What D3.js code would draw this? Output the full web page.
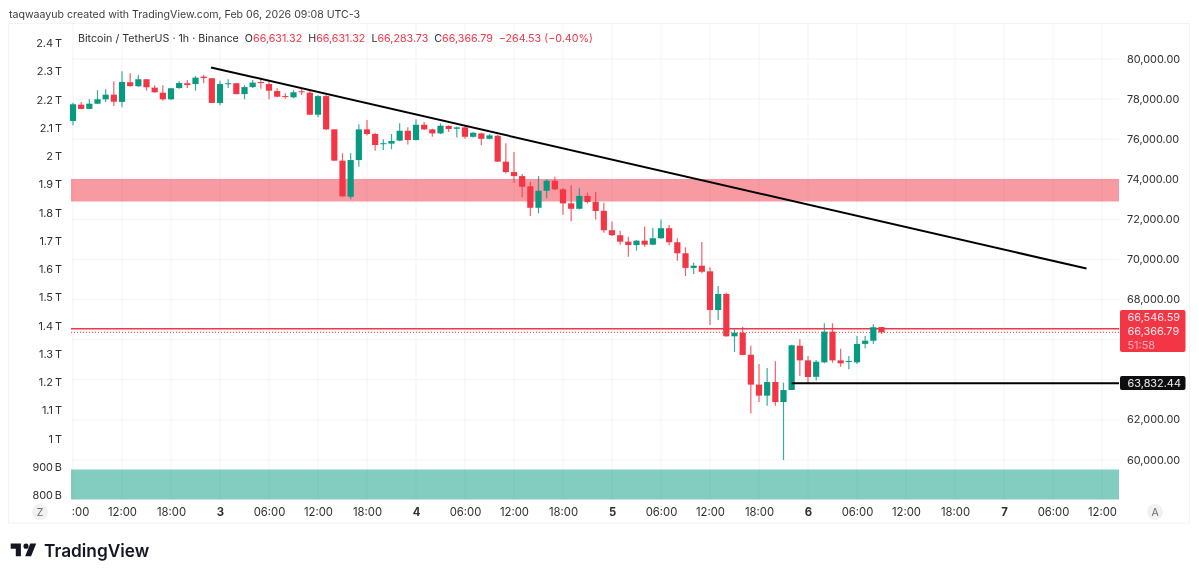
<!DOCTYPE html>
<html>
<head>
<meta charset="utf-8">
<script src="https://cdn.jsdelivr.net/npm/d3@7"></script>
<style>
  html, body { margin: 0; padding: 0; background: #fff; }
  svg { display: block; filter: blur(0.3px); }
  text { font-family: Inter, "Noto Sans", sans-serif; }
</style>
</head>
<body>
<div id="chart"></div>
<script>
// Hourly candles, index 0 = Feb 2 06:00
var opens = [76910,77720,77510,77770,77990,78220,77860,78840,78640,78990,
  78570,78320,77990,78550,78790,78750,79120,79040,77810,78750,
  78790,78250,78600,78850,78750,78400,78150,78090,78390,78320,
  77220,78150,76490,74930,73130,74960,76490,76260,75750,75780,
  75930,76420,75960,76720,76490,76290,76660,76520,76590,76120,
  76290,76020,76170,74880,74360,74160,73650,72580,73430,73930,
  73500,72800,72530,73170,72880,72430,71460,71210,70890,70720,
  70940,70740,71060,71560,70860,70310,69580,69690,69410,67480,
  68280,66170,66350,65250,63760,63210,63890,62890,63490,65700,
  64970,64150,64870,66400,64970,64890,64870,65790,65950,66631.32];
var highs = [77820,77860,77990,78450,78490,78890,79390,79290,79220,78990,
  78690,78690,78550,78890,78950,79150,79220,79040,78920,78990,
  78820,78690,78950,79050,78950,78540,78290,78450,78500,78450,
  78190,78200,76490,75300,75300,76740,76960,76320,76000,76260,
  76790,76590,76990,76860,76520,76790,76690,76620,76660,76360,
  76320,76260,76210,75800,75360,74260,73880,74160,74000,74130,
  73570,73700,73550,73330,73370,72830,71890,71440,71140,70970,
  71640,71570,72000,71720,71060,70610,69840,70870,69610,68680,
  68340,66520,66650,65700,64790,64590,64920,63860,65750,66020,
  65190,64990,66820,66820,65550,65190,66190,66190,66770,66631.32];
var lows = [76690,77490,77490,77760,77860,77660,77590,78620,78620,78420,
  78320,77920,77960,78520,78550,78420,78790,77810,77690,78550,
  78240,77990,78550,78520,77990,78090,78020,78040,78200,77220,
  77090,76460,74930,73130,73000,74630,76190,75430,75460,75500,
  75900,75730,75930,76460,76120,76260,76360,76090,76020,76090,
  75700,75990,74880,74300,73830,73100,72170,72300,73050,73470,
  72230,71910,72500,72800,72000,71340,71170,70740,70140,70440,
  70640,70710,71040,70710,69940,69180,69280,69310,66730,66980,
  66150,65390,65220,62330,62890,62710,62710,60000,63490,64190,
  63790,63960,64820,64850,64650,64520,64790,65570,65790,66283.73];
var closes = [77740,77510,77770,77990,78220,77870,78850,78650,78990,78590,
  78340,77990,78540,78800,78700,79070,79050,77810,78750,78790,
  78250,78600,78820,78800,78420,78120,78120,78340,78340,77220,
  78150,76490,74930,73150,74960,76490,76260,75710,75800,75910,
  76420,75960,76720,76490,76290,76670,76510,76590,76120,76320,
  76020,76190,74880,74360,74160,73630,72580,73430,73930,73500,
  72800,72530,73170,72870,72420,71460,71210,70890,70720,70940,
  70740,71060,71560,70860,70310,69580,69690,69390,67480,68280,
  66170,66350,65240,63760,63210,63890,62890,63490,65720,64970,
  64140,64900,66400,64970,64820,64940,65790,65950,66620,66366.79];

// Axis ticks
var priceTicks = [60000,62000,64000,66000,68000,70000,72000,74000,76000,78000,80000];
// 64,000 and 66,000 sit behind the price labels, so they get a grid line only
var priceLabelTicks = [60000,62000,68000,70000,72000,74000,76000,78000,80000];
var capTicks = [2.4,2.3,2.2,2.1,2,1.9,1.8,1.7,1.6,1.5,1.4,1.3,1.2,1.1,1,0.9,0.8];
var capLabels = ["2.4\u2009T","2.3\u2009T","2.2\u2009T","2.1\u2009T","2\u2009T","1.9\u2009T","1.8\u2009T","1.7\u2009T","1.6\u2009T","1.5\u2009T","1.4\u2009T","1.3\u2009T","1.2\u2009T","1.1\u2009T","1\u2009T","900\u2009B","800\u2009B"];
var timeTicks = [0,6,12,18,24,30,36,42,48,54,60,66,72,78,84,90,96,102,108,114,120,126];
var timeLabels = ["06:00","12:00","18:00","3","06:00","12:00","18:00","4","06:00","12:00","18:00","5","06:00","12:00","18:00","6","06:00","12:00","18:00","7","06:00","12:00"];

// Drawings on the chart
var supplyZone = [74015, 72893];
var demandZone = [59526, 58030];
var trendHours = [16.9, 124.1];
var trendPrices = [79580, 69550];
var supportPrice = 63832.44;
var supportStartHour = 88;
var lastLinePrice = 66546.59;
var closePrice = 66366.79;

var red = "#f23645";
var green = "#089981";
var textColor = "#2e2e33";
var axisFont = 10.9;

var svg = d3.select("#chart").append("svg")
  .attr("width", 1199)
  .attr("height", 577);

var plotLeft = 71, plotRight = 1119, plotTop = 24, plotBottom = 500;

var x = d3.scaleLinear().domain([0, 126]).range([73, 1102]);
var y = d3.scaleLinear().domain([60000, 80000]).range([460, 59]);
var yCap = d3.scaleLinear().domain([0.8, 2.4]).range([495, 43]);

svg.append("defs").append("clipPath").attr("id", "plot-clip")
  .append("rect")
  .attr("x", plotLeft).attr("y", 0)
  .attr("width", plotRight - plotLeft).attr("height", 577);

// Header line
svg.append("text")
  .attr("x", 9).attr("y", 18)
  .attr("font-size", 10.6)
  .attr("fill", "#3c3c40")
  .text("taqwaayub created with TradingView.com, Feb 06, 2026 09:08 UTC-3");

// Outer frame
svg.append("rect")
  .attr("x", 8.5).attr("y", 23.5)
  .attr("width", 1181).attr("height", 499.5)
  .attr("fill", "none")
  .attr("stroke", "#f3f4f6");

// Grid
svg.append("g").selectAll("line").data(priceTicks).join("line")
  .attr("x1", plotLeft).attr("x2", plotRight)
  .attr("y1", d => y(d)).attr("y2", d => y(d))
  .attr("stroke", "#f2f3f6");
svg.append("g").selectAll("line").data(timeTicks).join("line")
  .attr("x1", d => x(d)).attr("x2", d => x(d))
  .attr("y1", plotTop).attr("y2", plotBottom)
  .attr("stroke", "#f2f3f6");

// Zones
svg.append("rect")
  .attr("x", plotLeft).attr("width", plotRight - plotLeft)
  .attr("y", y(supplyZone[0]))
  .attr("height", y(supplyZone[1]) - y(supplyZone[0]))
  .attr("fill", "#f23645").attr("fill-opacity", 0.5);
svg.append("rect")
  .attr("x", plotLeft).attr("width", plotRight - plotLeft)
  .attr("y", y(demandZone[0]))
  .attr("height", y(demandZone[1]) - y(demandZone[0]))
  .attr("fill", "#089981").attr("fill-opacity", 0.5);

// Last price lines
svg.append("line")
  .attr("x1", plotLeft).attr("x2", plotRight)
  .attr("y1", y(lastLinePrice)).attr("y2", y(lastLinePrice))
  .attr("stroke", red).attr("stroke-width", 1.5);
svg.append("line")
  .attr("x1", plotLeft).attr("x2", plotRight)
  .attr("y1", y(closePrice)).attr("y2", y(closePrice))
  .attr("stroke", red).attr("stroke-dasharray", "1 2");

// Candles
var candles = svg.append("g").selectAll("g").data(opens).join("g");
candles.append("line")
  .attr("x1", (d, i) => x(i)).attr("x2", (d, i) => x(i))
  .attr("y1", (d, i) => y(highs[i])).attr("y2", (d, i) => y(lows[i]))
  .attr("stroke", (d, i) => closes[i] >= d ? green : red)
  .attr("stroke-opacity", 0.8)
  .attr("stroke-width", 1.2);
candles.append("rect")
  .attr("x", (d, i) => x(i) - 3.1)
  .attr("width", 6.2)
  .attr("y", (d, i) => y(Math.max(d, closes[i])))
  .attr("height", (d, i) => Math.max(1, Math.abs(y(d) - y(closes[i]))))
  .attr("fill", (d, i) => closes[i] >= d ? green : red);

// Trend line and support ray
svg.append("line")
  .attr("x1", x(trendHours[0])).attr("y1", y(trendPrices[0]))
  .attr("x2", x(trendHours[1])).attr("y2", y(trendPrices[1]))
  .attr("stroke", "#000").attr("stroke-width", 2);
svg.append("line")
  .attr("x1", x(supportStartHour)).attr("x2", plotRight)
  .attr("y1", y(supportPrice)).attr("y2", y(supportPrice))
  .attr("stroke", "#000").attr("stroke-width", 2);

// Price axis on the right
var priceAxis = svg.append("g")
  .attr("transform", `translate(${plotRight},0)`)
  .call(d3.axisRight(y).tickValues(priceLabelTicks).tickSize(0).tickPadding(8)
    .tickFormat(d3.format(",.2f")));
priceAxis.select(".domain").remove();
priceAxis.attr("font-family", null).attr("font-size", axisFont);
priceAxis.selectAll("text").attr("fill", textColor).attr("y", -0.5);

// Market cap axis on the left
var capAxis = svg.append("g")
  .attr("transform", `translate(${plotLeft},0)`)
  .call(d3.axisLeft(yCap).tickValues(capTicks).tickSize(0).tickPadding(9)
    .tickFormat((d, i) => capLabels[i]));
capAxis.select(".domain").remove();
capAxis.attr("font-family", null).attr("font-size", axisFont);
capAxis.selectAll("text").attr("fill", textColor);

// Time axis, the first label is cut at the pane edge
var timeAxis = svg.append("g")
  .attr("transform", `translate(0,${plotBottom})`)
  .attr("clip-path", "url(#plot-clip)")
  .call(d3.axisBottom(x).tickValues(timeTicks).tickSize(0).tickPadding(8)
    .tickFormat((d, i) => timeLabels[i]));
timeAxis.select(".domain").remove();
timeAxis.attr("font-family", null).attr("font-size", 11.3);
timeAxis.selectAll("text")
  .attr("fill", textColor)
  .attr("font-weight", (d, i) => timeLabels[i].length == 1 ? 700 : 400);

// Price labels on the axis
svg.append("rect")
  .attr("x", 1120).attr("y", 310).attr("width", 65.5).attr("height", 42)
  .attr("rx", 2).attr("fill", red);
svg.append("text").attr("x", 1127.5).attr("y", 321)
  .attr("font-size", axisFont).attr("fill", "#ffe9eb").text(d3.format(",.2f")(lastLinePrice));
svg.append("text").attr("x", 1127.5).attr("y", 335.4)
  .attr("font-size", axisFont).attr("fill", "#ffe9eb").text(d3.format(",.2f")(closePrice));
svg.append("text").attr("x", 1127.5).attr("y", 348.8)
  .attr("font-size", axisFont).attr("fill", "#fbb0b7").text("51:58");
svg.append("rect")
  .attr("x", 1120).attr("y", 376).attr("width", 65.5).attr("height", 14)
  .attr("rx", 2).attr("fill", "#0e0e10");
svg.append("text").attr("x", 1127.5).attr("y", 387)
  .attr("font-size", axisFont).attr("fill", "#f0f0f0").text(d3.format(",.2f")(supportPrice));

// Legend
var legend = svg.append("text").attr("x", 78).attr("y", 42).attr("font-size", 10.7);
legend.append("tspan").attr("fill", textColor).text("Bitcoin / TetherUS · 1h · Binance");
var legendItems = [["O", "66,631.32"], ["H", "66,631.32"], ["L", "66,283.73"], ["C", "66,366.79"]];
legendItems.forEach((item, i) => {
  legend.append("tspan").attr("fill", textColor).attr("dx", 6).text(item[0]);
  legend.append("tspan").attr("fill", red).text(item[1]);
});
legend.append("tspan").attr("fill", red).attr("dx", 6).text("−264.53 (−0.40%)");

// Z and A buttons
[[40, "Z"], [1155, "A"]].forEach(b => {
  svg.append("circle").attr("cx", b[0]).attr("cy", 512).attr("r", 8).attr("fill", "#f1f1f2");
  svg.append("text").attr("x", b[0]).attr("y", 516)
    .attr("text-anchor", "middle").attr("font-size", 10.5).attr("fill", "#6a6a70").text(b[1]);
});

// Logo
svg.append("path")
  .attr("d", "M14 6H2v6h6v9h6V6Zm12 15h-7l6-15h7l-6 15Zm-6-9a3 3 0 1 0 0-6 3 3 0 0 0 0 6Z")
  .attr("transform", "translate(9,538.5) scale(.85)")
  .attr("fill", "#131722");
svg.append("text")
  .attr("x", 44).attr("y", 557)
  .attr("font-size", 17.3).attr("font-weight", 600)
  .attr("fill", "#131722")
  .text("TradingView");
</script>
</body>
</html>
